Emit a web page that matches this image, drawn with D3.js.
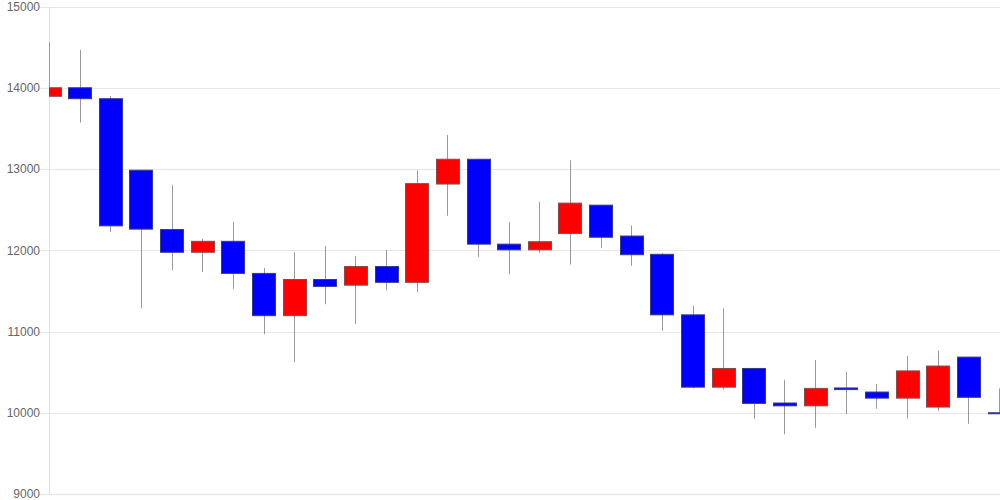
<!DOCTYPE html>
<html><head><meta charset="utf-8">
<script src="https://cdn.jsdelivr.net/npm/d3@7"></script>
<style>html,body{margin:0;padding:0;background:#fff;}svg{display:block;}</style>
</head><body>
<svg id="chart" width="1000" height="500"></svg>
<script>
const categories = d3.range(1, 33).map(String);
const openValues  = [13895,14000,13865,12985,12255,11975,12110,11715,11195,11640,11570,11800,11605,12815,13120,12075,12005,12205,12555,12175,11950,11205,10315,10545,10120,10085,10305,10255,10180,10070,10685,10000];
const closeValues = [14000,13865,12300,12260,11975,12110,11715,11195,11640,11555,11800,11605,12820,13120,12075,12005,12105,12580,12160,11945,11205,10315,10545,10115,10085,10300,10285,10180,10515,10575,10190,9990];
const highValues  = [14560,14465,13895,12985,12800,12140,12350,11780,11975,12050,11930,12005,12985,13420,13125,12345,12595,13105,12555,12305,11965,11315,11285,10545,10405,10650,10500,10355,10700,10765,10685,10300];
const lowValues   = [13895,13570,12225,11285,11755,11735,11525,10965,10625,11335,11090,11505,11485,12425,11915,11705,11970,11825,12025,11810,11010,10300,10285,9925,9735,9815,9980,10050,9930,10025,9865,9985];
const yTicks = [9000,10000,11000,12000,13000,14000,15000];

(function () {
const svg = d3.select("#chart");
const pLeft = 49, pRight = 1000, pTop = 6.5, pBottom = 494;
const x = d3.scalePoint().domain(categories).range([pLeft, 999]);
const y = d3.scaleLinear().domain([9000, 15000]).range([pBottom, pTop]);
const step = x.step();
const bw = step * 0.75;

svg.append("g").selectAll("line").data(yTicks).join("line")
  .attr("x1", 39).attr("x2", pRight)
  .attr("y1", d => Math.round(y(d)) + 0.5).attr("y2", d => Math.round(y(d)) + 0.5)
  .attr("stroke", "#e6e6e6").attr("stroke-width", 1);

svg.append("line").attr("x1", pLeft + 0.5).attr("x2", pLeft + 0.5)
  .attr("y1", pTop).attr("y2", pBottom + 1).attr("stroke", "#e0e0e0");

const yAxis = d3.axisLeft(y).tickValues(yTicks).tickSize(0).tickPadding(0).tickFormat(d3.format("d"));
const ag = svg.append("g").attr("transform", "translate(40,0)").call(yAxis);
ag.select(".domain").remove();
ag.selectAll("text").attr("fill", "#666").style("font-family", "Liberation Sans, Arial, sans-serif").style("font-size", "12px");

svg.append("defs").append("clipPath").attr("id", "clip")
  .append("rect").attr("x", pLeft).attr("y", 0).attr("width", pRight - pLeft).attr("height", 500);

const data = categories.map((c, i) => ({c, o: openValues[i], cl: closeValues[i], h: highValues[i], l: lowValues[i]}));
const g = svg.append("g").attr("clip-path", "url(#clip)");

g.selectAll("line.wick").data(data).join("line").attr("class", "wick")
  .attr("x1", d => Math.round(x(d.c)) + 0.5).attr("x2", d => Math.round(x(d.c)) + 0.5)
  .attr("y1", d => y(d.h)).attr("y2", d => y(d.l))
  .attr("stroke", "#999").attr("stroke-width", 1);

g.selectAll("rect.body").data(data).join("rect").attr("class", "body")
  .attr("x", d => Math.round(x(d.c) - bw / 2) + 0.5)
  .attr("width", Math.round(bw))
  .attr("y", d => y(Math.max(d.o, d.cl)))
  .attr("height", d => Math.max(1, Math.abs(y(d.o) - y(d.cl))))
  .attr("fill", d => d.cl >= d.o ? "#ff0000" : "#0000ff")
  .attr("stroke", d => d.cl >= d.o ? "#8a4a4a" : "#3a3a8a")
  .attr("stroke-width", 1);
})();
</script>
</body></html>
